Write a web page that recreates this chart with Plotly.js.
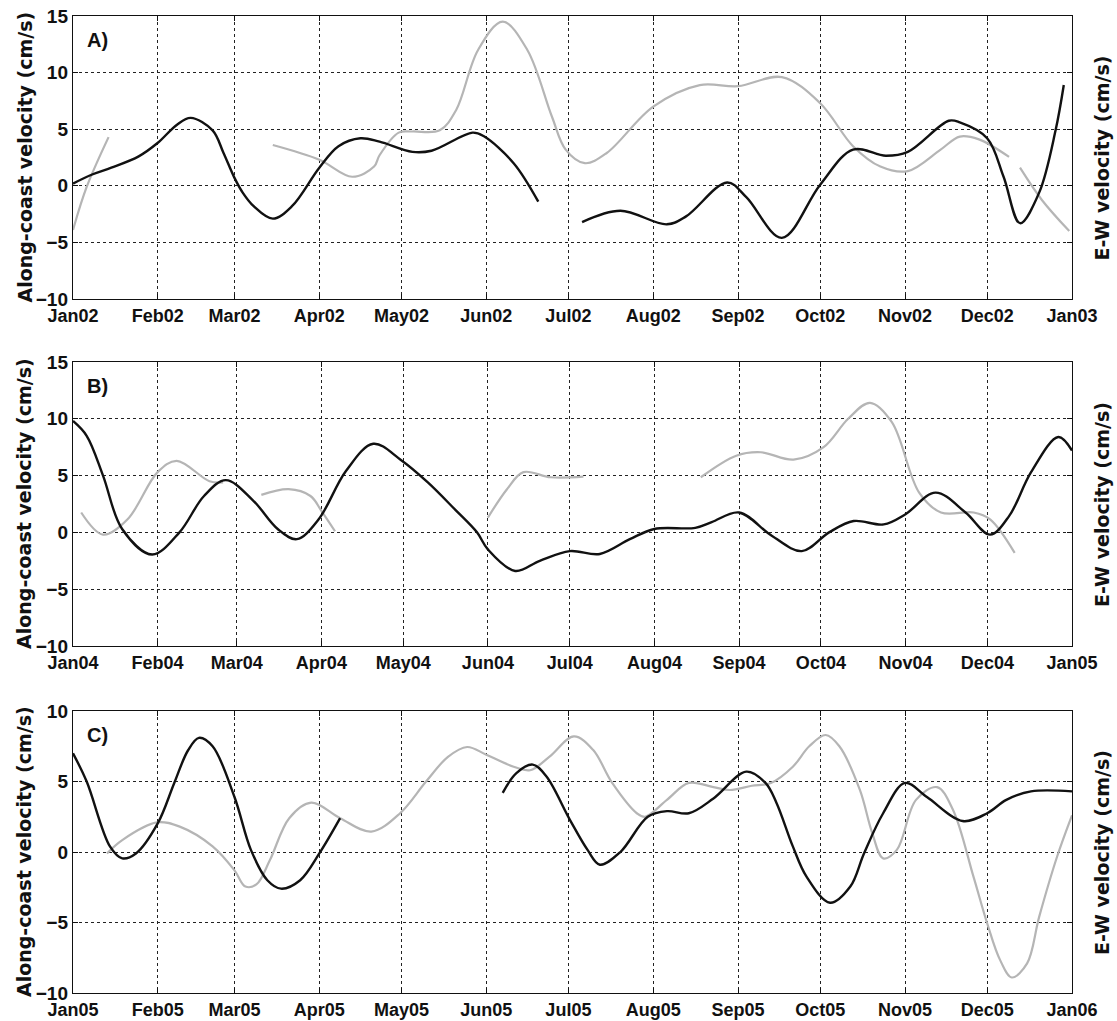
<!DOCTYPE html>
<html>
<head>
<meta charset="utf-8">
<script src="https://cdn.plot.ly/plotly-3.0.1.min.js"></script>
<style>html,body{margin:0;padding:0;background:#fff;}</style>
</head>
<body>
<div id="chart" style="width:1117px;height:1021px;"></div>
<script>
// ---- Panel A (2002) ----
const aBlackDay = [0, 7, 14, 24, 31, 38, 43, 51, 55, 59, 62, 66, 73, 80, 90, 97, 105, 112, 124, 131, 146, 150, 161, 170, 178, 186, 200, 217, 224, 239, 246, 259, 273, 285, 297, 305, 320, 324, 334, 340, 346, 353, 359, 362];
const aBlackVal = [0.2, 1.0, 1.6, 2.6, 3.8, 5.4, 6.0, 4.9, 2.9, 0.7, -0.6, -1.8, -2.9, -1.8, 1.6, 3.5, 4.2, 3.9, 3.0, 3.1, 4.7, 4.4, 2.0, -1.4, null, -3.2, -2.2, -3.4, -2.7, 0.3, -1.0, -4.6, 0.1, 3.2, 2.65, 3.0, 5.75, 5.6, 4.2, 0.8, -3.3, -0.6, 4.9, 8.9];
const aGrayDay = [0, 5, 13, 40, 73, 90, 102, 110, 112, 119, 124, 134, 140, 148, 157, 166, 175, 180, 187, 195, 212, 229, 243, 259, 273, 285, 295, 305, 317, 324, 331, 342, 344, 346, 354, 364];
const aGrayVal = [-3.9, -0.1, 4.3, null, 3.6, 2.3, 0.8, 1.7, 2.7, 4.7, 4.8, 4.9, 6.7, 12.0, 14.5, 12.0, 6.1, 3.2, 2.0, 2.9, 7.0, 8.9, 8.8, 9.6, 7.3, 3.5, 1.7, 1.3, 3.2, 4.35, 4.1, 2.55, null, 1.6, -1.25, -4.0];

// ---- Panel B (2004) ----
const bBlackDay = [0, 5, 11, 18, 29, 39, 48, 56, 66, 75, 82, 90, 100, 110, 120, 130, 140, 148, 152, 162, 171, 182, 193, 204, 213, 228, 234, 244, 256, 267, 277, 286, 297, 305, 316, 327, 336, 343, 351, 361, 366];
const bBlackVal = [9.8, 8.5, 5.0, 0.3, -1.95, 0.0, 3.2, 4.6, 2.8, 0.3, -0.6, 1.15, 5.4, 7.8, 6.4, 4.4, 2.0, 0.0, -1.5, -3.4, -2.5, -1.65, -1.9, -0.6, 0.3, 0.4, 0.9, 1.75, -0.3, -1.65, 0.0, 1.0, 0.7, 1.6, 3.5, 1.75, -0.2, 1.45, 5.3, 8.4, 7.2];
const bGrayDay = [3, 11, 20, 31, 38, 50, 55, 62, 69, 79, 87, 91, 96, 120, 152, 159, 165, 175, 187, 200, 230, 243, 252, 264, 275, 284, 292, 300, 310, 318, 330, 336, 345];
const bGrayVal = [1.75, -0.2, 1.15, 5.3, 6.3, 4.5, 4.4, null, 3.3, 3.8, 3.2, 1.9, 0.1, null, 1.3, 3.8, 5.3, 4.85, 4.9, null, 4.85, 6.75, 7.05, 6.4, 7.5, 10.0, 11.4, 9.7, 3.5, 1.75, 1.75, 1.15, -1.8];

// ---- Panel C (2005) ----
const cBlackDay = [0, 5, 13.5, 18, 23, 31, 37, 42, 46, 51, 59, 65, 71, 76, 83, 90, 97.6, 130, 157, 162, 168, 173, 181.5, 188, 192.5, 200, 210, 217, 225, 234, 246, 253, 257, 263, 268, 276.6, 284, 289, 296, 304, 312, 325, 334, 341, 350, 365];
const cBlackVal = [7.0, 5.0, 0.4, -0.45, -0.1, 2.05, 4.9, 7.2, 8.1, 7.5, 3.9, 0.15, -2.0, -2.6, -2.0, -0.1, 2.4, null, 4.2, 5.6, 6.2, 5.35, 2.3, 0.15, -0.9, 0.0, 2.5, 2.9, 2.75, 3.8, 5.7, 4.9, 3.5, 0.4, -1.75, -3.6, -2.45, -0.1, 2.75, 4.9, 3.9, 2.2, 2.75, 3.7, 4.3, 4.3];
const cGrayDay = [12.4, 18, 30.6, 39, 51, 59, 63, 67, 72, 79, 87, 97.6, 109, 119.5, 129, 137, 144, 151, 161, 167, 174, 183, 190, 197, 206, 209, 217, 225, 234, 240, 248, 255, 263, 269, 275, 280, 287.5, 292, 296, 301, 308, 315.7, 321.5, 329, 334, 338.7, 343, 348.6, 353, 359.6, 365];
const cGrayVal = [-0.1, 0.85, 2.1, 1.8, 0.4, -1.3, -2.45, -2.3, -0.55, 2.4, 3.5, 2.4, 1.45, 2.75, 5.0, 6.75, 7.45, 6.9, 6.05, 5.8, 6.75, 8.2, 7.25, 4.9, 2.75, 2.5, 3.7, 4.9, 4.6, 4.4, 4.7, 4.9, 6.05, 7.5, 8.3, 7.5, 4.4, 1.35, -0.45, 0.15, 3.7, 4.6, 3.0, -1.75, -5.05, -7.65, -8.9, -7.9, -4.6, -0.3, 2.6];

const panelLabels = ['A)', 'B)', 'C)'];
const panelYears = [2002, 2004, 2005];
const leftTitle = 'Along-coast velocity (cm/s)';
const rightTitle = 'E-W velocity (cm/s)';

function toDates(year, days) {
  return days.map(d => new Date(Date.UTC(year, 0, 1) + d * 86400000).toISOString().slice(0, 19).replace('T', ' '));
}

const BLACK = '#111111', GRAY = '#b5b5b5';
function line(year, days, vals, color, width, ax) {
  return {
    x: toDates(year, days), y: vals, type: 'scatter', mode: 'lines',
    line: {color: color, width: width, shape: 'spline', smoothing: 1},
    connectgaps: false, hoverinfo: 'skip', showlegend: false,
    xaxis: 'x' + ax, yaxis: 'y' + ax
  };
}

const data = [
  line(2002, aGrayDay, aGrayVal, GRAY, 2.2, ''),
  line(2002, aBlackDay, aBlackVal, BLACK, 2.4, ''),
  line(2004, bGrayDay, bGrayVal, GRAY, 2.2, '2'),
  line(2004, bBlackDay, bBlackVal, BLACK, 2.4, '2'),
  line(2005, cGrayDay, cGrayVal, GRAY, 2.2, '3'),
  line(2005, cBlackDay, cBlackVal, BLACK, 2.4, '3')
];

const tickFont = {family: 'Liberation Sans, Arial, sans-serif', size: 18, color: '#111', weight: 'bold'};
function xax(year, anchor) {
  return {
    type: 'date', range: [year + '-01-01', (year + 1) + '-01-01'],
    tickformat: '%b%y', dtick: 'M1', tick0: year + '-01-01',
    showgrid: true, gridcolor: '#222', griddash: '3px,3px', gridwidth: 1,
    showline: true, linecolor: '#111', linewidth: 1.2, mirror: 'ticks',
    ticks: 'inside', ticklen: 5, tickcolor: '#111',
    tickfont: tickFont, anchor: anchor, domain: [0, 1], fixedrange: true
  };
}
function yax(range, domain, anchor) {
  return {
    range: range, dtick: 5, tick0: 0, zeroline: false,
    showgrid: true, gridcolor: '#222', griddash: '3px,3px', gridwidth: 1,
    showline: true, linecolor: '#111', linewidth: 1.2, mirror: 'ticks',
    ticks: 'inside', ticklen: 5, tickcolor: '#111',
    tickfont: Object.assign({}, tickFont, {size: 19}), domain: domain, anchor: anchor, fixedrange: true
  };
}

const domains = [[0.7103, 1], [0.3552, 0.6459], [0, 0.2886]];
const titleFont = {family: 'DejaVu Sans, sans-serif', size: 19, color: '#111', weight: 'bold'};
const annotations = [];
domains.forEach((d, i) => {
  const mid = (d[0] + d[1]) / 2;
  annotations.push({xref: 'paper', yref: 'paper', x: -0.049, y: mid, text: leftTitle, textangle: -90, showarrow: false, font: titleFont, xanchor: 'center', yanchor: 'middle'});
  annotations.push({xref: 'paper', yref: 'paper', x: 1.030, y: mid, text: rightTitle, textangle: -90, showarrow: false, font: titleFont, xanchor: 'center', yanchor: 'middle'});
  annotations.push({xref: 'paper', yref: 'paper', x: 0.012, y: d[1] - 0.025, text: panelLabels[i], showarrow: false, font: {family: 'Liberation Sans, Arial, sans-serif', size: 20, color: '#111', weight: 'bold'}, xanchor: 'left', yanchor: 'middle'});
});

const layout = {
  width: 1117, height: 1021,
  margin: {l: 73, r: 45, t: 16, b: 28},
  paper_bgcolor: '#fff', plot_bgcolor: '#fff',
  showlegend: false,
  xaxis: xax(panelYears[0], 'y'),
  yaxis: yax([-10, 15], domains[0], 'x'),
  xaxis2: xax(panelYears[1], 'y2'),
  yaxis2: yax([-10, 15], domains[1], 'x2'),
  xaxis3: xax(panelYears[2], 'y3'),
  yaxis3: yax([-10, 10], domains[2], 'x3'),
  annotations: annotations
};

Plotly.newPlot('chart', data, layout, {staticPlot: true, displayModeBar: false});
</script>
</body>
</html>
